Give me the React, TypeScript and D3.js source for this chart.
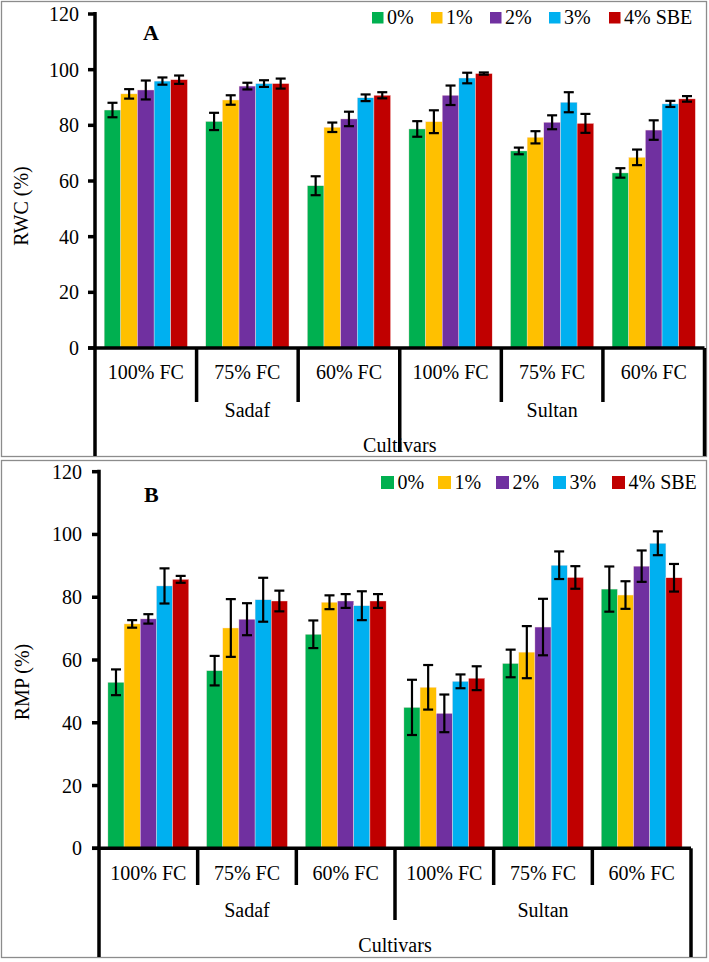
import React from "react";
import * as d3 from "d3";

// ---------- data ----------
const categories = ["100% FC", "75% FC", "60% FC", "100% FC", "75% FC", "60% FC"];
const cultivars = ["Sadaf", "Sultan"];
const seriesNames = ["0%", "1%", "2%", "3%", "4% SBE"];
const seriesColors = ["#00B050", "#FFC000", "#7030A0", "#00B0F0", "#C00000"];
const yTicks = [0, 20, 40, 60, 80, 100, 120];

const rwc0 = [85.5, 81.4, 58.3, 78.7, 70.8, 62.9];
const rwc1 = [91.3, 89.1, 79.3, 81.3, 75.7, 68.5];
const rwc2 = [92.7, 94.1, 82.3, 90.8, 81.1, 78.3];
const rwc3 = [95.9, 95.0, 89.9, 97.0, 88.3, 87.7];
const rwc4 = [96.4, 95.0, 90.8, 98.6, 80.7, 89.5];
const rwcErr0 = [2.6, 3.1, 3.4, 2.8, 1.2, 1.7];
const rwcErr1 = [1.7, 1.7, 1.7, 4.1, 2.2, 2.8];
const rwcErr2 = [3.4, 1.2, 2.6, 3.5, 2.5, 3.5];
const rwcErr3 = [1.3, 1.2, 1.2, 1.9, 3.6, 1.1];
const rwcErr4 = [1.5, 1.8, 1.1, 0.4, 3.4, 1.0];

const rmp0 = [52.9, 56.6, 68.2, 44.9, 58.9, 82.6];
const rmp1 = [71.5, 70.2, 78.4, 51.3, 62.5, 80.7];
const rmp2 = [73.1, 73.0, 78.8, 43.0, 70.5, 89.9];
const rmp3 = [83.6, 79.2, 77.3, 53.2, 90.2, 97.2];
const rmp4 = [85.7, 78.8, 78.8, 54.2, 86.3, 86.2];
const rmpErr0 = [4.1, 4.7, 4.4, 8.8, 4.4, 7.2];
const rmpErr1 = [1.2, 9.2, 2.2, 7.1, 8.3, 4.4];
const rmpErr2 = [1.5, 5.1, 2.2, 6.0, 9.0, 5.0];
const rmpErr3 = [5.6, 7.0, 4.6, 2.2, 4.4, 3.8];
const rmpErr4 = [1.1, 3.3, 2.2, 3.8, 3.6, 4.4];

const rwcMeans = [rwc0, rwc1, rwc2, rwc3, rwc4];
const rwcErrs = [rwcErr0, rwcErr1, rwcErr2, rwcErr3, rwcErr4];
const rmpMeans = [rmp0, rmp1, rmp2, rmp3, rmp4];
const rmpErrs = [rmpErr0, rmpErr1, rmpErr2, rmpErr3, rmpErr4];

// ---------- layout ----------
const W = 709;
const H = 962;
const FONT = '"Liberation Serif", "Times New Roman", Times, serif';
const txt: React.CSSProperties = { fontFamily: FONT, fontSize: "20px", fill: "#000" };

type PanelCfg = {
  letter: string;
  title: string;
  means: number[][];
  errs: number[][];
  border: [number, number, number, number];
  xLeft: number;
  xRight: number;
  yZero: number;
  yTop: number;
  tickLabelX: number;
  titleX: number;
  titleY: number;
  letterX: number;
  letterY: number;
  catLabelY: number;
  cultLabelY: number;
  axisLabelY: number;
  shortDivBottom: number;
  midDivBottom: number;
  outerBottom: number;
  legendXs: number[];
  legendY: number;
  legendSize: number;
  legendBaseline: number;
};

const panels: PanelCfg[] = [
  {
    letter: "A",
    title: "RWC (%)",
    means: rwcMeans,
    errs: rwcErrs,
    border: [1.5, 1.5, 706.5, 456.5],
    xLeft: 95,
    xRight: 704.5,
    yZero: 348,
    yTop: 14,
    tickLabelX: 79,
    titleX: 21,
    titleY: 206,
    letterX: 143,
    letterY: 40,
    catLabelY: 372,
    cultLabelY: 410,
    axisLabelY: 445,
    shortDivBottom: 402,
    midDivBottom: 452,
    outerBottom: 456,
    legendXs: [372, 431, 490, 549, 609],
    legendY: 12,
    legendSize: 11.5,
    legendBaseline: 24,
  },
  {
    letter: "B",
    title: "RMP (%)",
    means: rmpMeans,
    errs: rmpErrs,
    border: [1.5, 460.5, 706.5, 957.5],
    xLeft: 99,
    xRight: 691,
    yZero: 848.3,
    yTop: 471.7,
    tickLabelX: 82,
    titleX: 22,
    titleY: 682,
    letterX: 144,
    letterY: 502,
    catLabelY: 873,
    cultLabelY: 910,
    axisLabelY: 945,
    shortDivBottom: 885,
    midDivBottom: 920,
    outerBottom: 957,
    legendXs: [381, 438, 496, 553, 612],
    legendY: 476,
    legendSize: 13,
    legendBaseline: 489,
  },
];

function Panel({ p }: { p: PanelCfg }) {
  const idx = d3.range(categories.length);
  const x = d3.scaleBand<number>().domain(idx).range([p.xLeft, p.xRight]).padding(0);
  const xs = d3
    .scaleBand<number>()
    .domain(d3.range(seriesNames.length))
    .range([0, x.bandwidth()])
    .paddingInner(0)
    .paddingOuter(0.55);
  const y = d3.scaleLinear().domain([0, 120]).range([p.yZero, p.yTop]);
  const axisW = 3.5;
  const capHalf = 5;

  const dividerXs = d3.range(1, categories.length).map((i) => x(i) as number);
  const midIndex = categories.length / 2;

  return (
    <g>
      <rect
        x={p.border[0]}
        y={p.border[1]}
        width={p.border[2] - p.border[0]}
        height={p.border[3] - p.border[1]}
        fill="#fff"
        stroke="#8c8c8c"
        strokeWidth={1.3}
      />
      {p.means.map((vals, s) =>
        vals.map((v, c) => {
          const bx = (x(c) as number) + (xs(s) as number);
          return (
            <rect
              key={`b${s}-${c}`}
              x={bx}
              y={y(v)}
              width={xs.bandwidth()}
              height={y(0) - y(v)}
              fill={seriesColors[s]}
              stroke="#ffe0e0"
              strokeWidth={0.4}
            />
          );
        })
      )}
      {p.means.map((vals, s) =>
        vals.map((v, c) => {
          const cx = (x(c) as number) + (xs(s) as number) + xs.bandwidth() / 2;
          const e = p.errs[s][c];
          const y1 = y(v + e);
          const y2 = y(v - e);
          return (
            <g key={`e${s}-${c}`} stroke="#000" strokeWidth={2.2}>
              <line x1={cx} x2={cx} y1={y1} y2={y2} />
              <line x1={cx - capHalf} x2={cx + capHalf} y1={y1} y2={y1} />
              <line x1={cx - capHalf} x2={cx + capHalf} y1={y2} y2={y2} />
            </g>
          );
        })
      )}
      <line x1={p.xLeft} x2={p.xLeft} y1={p.yTop - 2} y2={p.outerBottom} stroke="#000" strokeWidth={axisW} />
      {yTicks.map((t) => (
        <g key={`t${t}`}>
          <line x1={p.xLeft - 7} x2={p.xLeft} y1={y(t)} y2={y(t)} stroke="#000" strokeWidth={axisW} />
          <text x={p.tickLabelX} y={y(t)} textAnchor="end" dominantBaseline="central" style={txt}>
            {t}
          </text>
        </g>
      ))}
      <line x1={p.xLeft - 7} x2={p.xRight} y1={p.yZero} y2={p.yZero} stroke="#000" strokeWidth={axisW} />
      {dividerXs.map((dx, i) => (
        <line
          key={`d${i}`}
          x1={dx}
          x2={dx}
          y1={p.yZero}
          y2={i + 1 === midIndex ? p.midDivBottom : p.shortDivBottom}
          stroke="#000"
          strokeWidth={axisW}
        />
      ))}
      <line x1={p.xRight} x2={p.xRight} y1={p.yZero} y2={p.outerBottom} stroke="#000" strokeWidth={axisW} />
      {categories.map((c, i) => (
        <text
          key={`c${i}`}
          x={(x(i) as number) + x.bandwidth() / 2}
          y={p.catLabelY}
          textAnchor="middle"
          dominantBaseline="central"
          style={txt}
        >
          {c}
        </text>
      ))}
      {cultivars.map((c, i) => {
        const a = x(i * midIndex) as number;
        const b = i === 0 ? (x(midIndex) as number) : p.xRight;
        return (
          <text key={`cv${i}`} x={(a + b) / 2} y={p.cultLabelY} textAnchor="middle" dominantBaseline="central" style={txt}>
            {c}
          </text>
        );
      })}
      <text x={(p.xLeft + p.xRight) / 2} y={p.axisLabelY} textAnchor="middle" dominantBaseline="central" style={txt}>
        Cultivars
      </text>
      <text
        transform={`translate(${p.titleX},${p.titleY}) rotate(-90)`}
        textAnchor="middle"
        dominantBaseline="central"
        style={txt}
      >
        {p.title}
      </text>
      <text x={p.letterX} y={p.letterY} style={{ ...txt, fontSize: "22px", fontWeight: "bold" }}>
        {p.letter}
      </text>
      {seriesNames.map((n, i) => (
        <g key={`l${i}`}>
          <rect x={p.legendXs[i]} y={p.legendY} width={p.legendSize} height={p.legendSize} fill={seriesColors[i]} />
          <text x={p.legendXs[i] + p.legendSize + 3.5} y={p.legendBaseline} style={txt}>
            {n}
          </text>
        </g>
      ))}
    </g>
  );
}

export default function App() {
  return (
    <div style={{ position: "absolute", left: 0, top: 0, width: W, height: H, background: "#fff" }}>
      <svg width={W} height={H} viewBox={`0 0 ${W} ${H}`} style={{ display: "block" }}>
        <rect x={0} y={0} width={W} height={H} fill="#fff" />
        {panels.map((p) => (
          <Panel key={p.letter} p={p} />
        ))}
      </svg>
    </div>
  );
}
